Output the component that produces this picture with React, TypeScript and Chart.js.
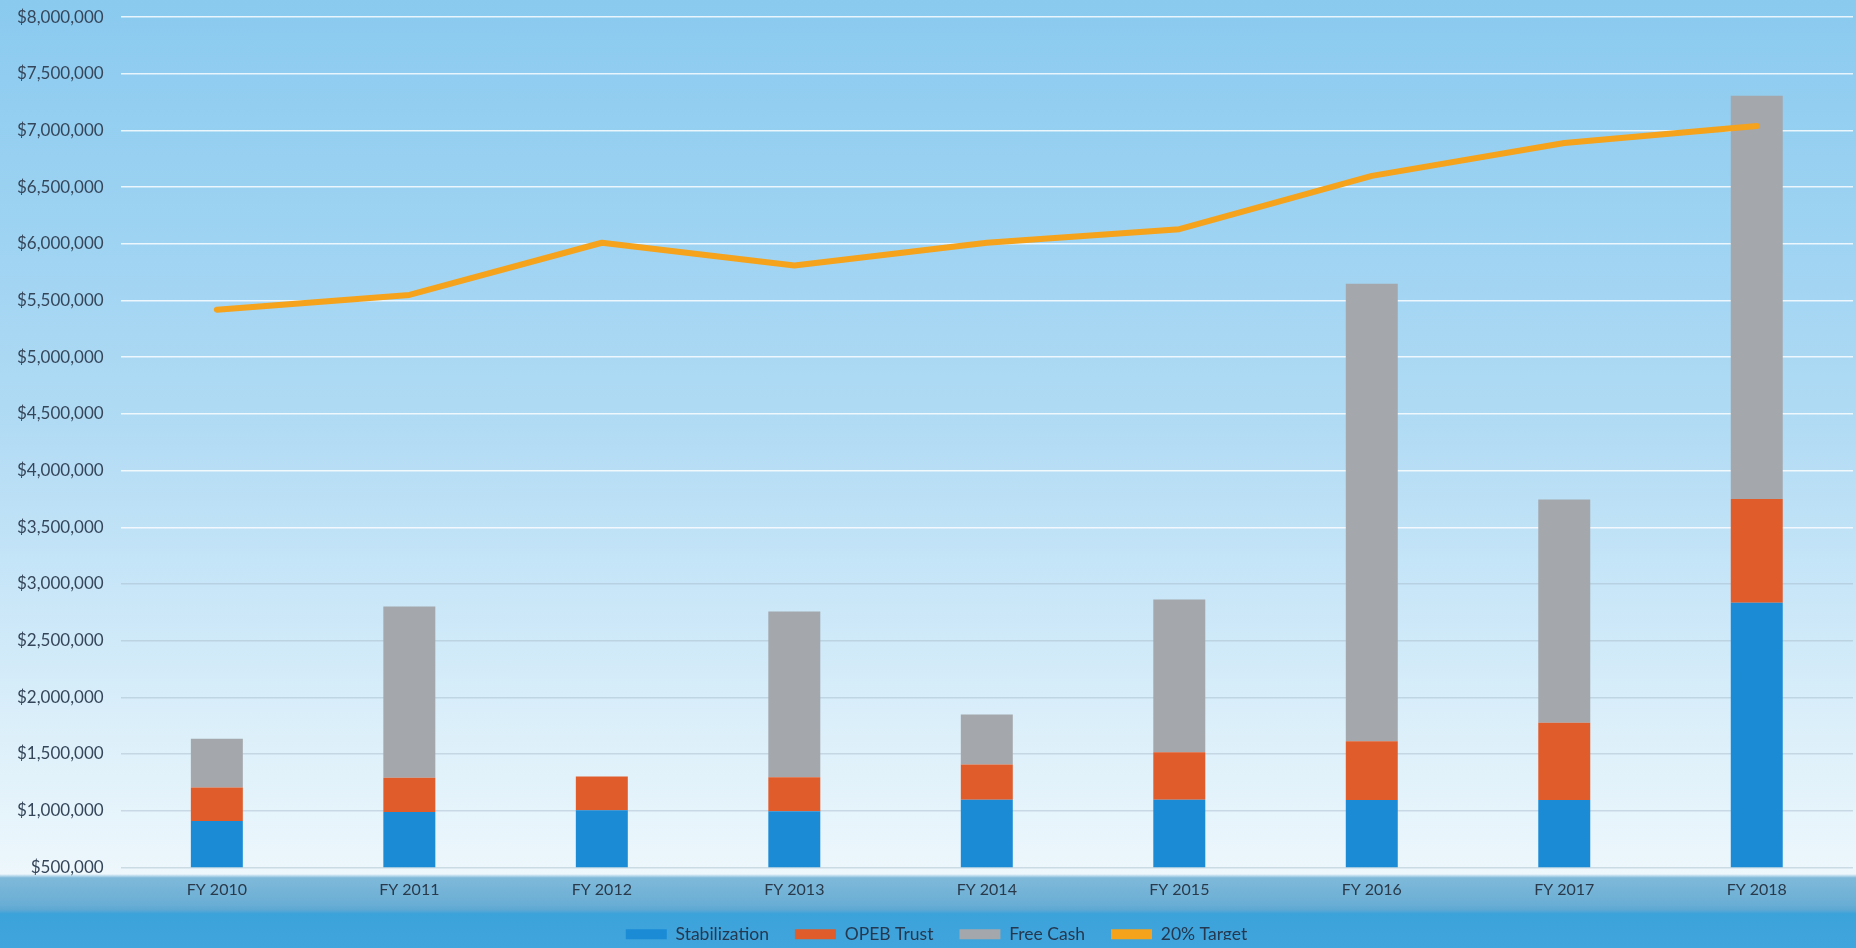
import React, { useEffect, useRef } from 'react';
import { Chart, registerables } from 'chart.js';

Chart.register(...registerables);

const categories = ['FY 2010', 'FY 2011', 'FY 2012', 'FY 2013', 'FY 2014', 'FY 2015', 'FY 2016', 'FY 2017', 'FY 2018'];
const stabilization = [908000, 988000, 1003000, 995000, 1097000, 1097000, 1093000, 1093000, 2835000];
const opebTrust = [295000, 302000, 299000, 299000, 309000, 418000, 518000, 682000, 915000];
const freeCash = [431000, 1510000, 0, 1462000, 442000, 1347000, 4037000, 1969000, 3556000];
const target20 = [5420000, 5550000, 6010000, 5810000, 6010000, 6130000, 6600000, 6890000, 7040000];

const yMin = 500000;
const yMax = 8000000;
const yStep = 500000;

const seriesLabels = ['Stabilization', 'OPEB Trust', 'Free Cash', '20% Target'];

const LEGEND_LIFT = 13;
const LEGEND_SHIFT_X = 10;

const legendAdjust = {
  id: 'legendAdjust',
  beforeInit(chart: any) {
    const legend = chart.legend;
    if (!legend) return;
    const origFit = legend.fit;
    legend.fit = function () {
      origFit.call(this);
      this.height -= LEGEND_LIFT;
    };
  },
  afterLayout(chart: any) {
    const legend = chart.legend;
    if (!legend) return;
    legend.top -= LEGEND_LIFT;
    legend.bottom -= LEGEND_LIFT;
    legend.left += LEGEND_SHIFT_X;
    legend.right += LEGEND_SHIFT_X;
  },
};

export default function App() {
  const canvasRef = useRef<HTMLCanvasElement | null>(null);

  useEffect(() => {
    document.body.style.margin = '0';
    document.body.style.overflow = 'hidden';
    const canvas = canvasRef.current;
    if (!canvas) return;
    const font = 'Lato';
    const chart = new Chart(canvas, {
      type: 'bar',
      data: {
        labels: categories,
        datasets: [
          {
            type: 'bar',
            label: seriesLabels[0],
            data: stabilization,
            backgroundColor: '#1b8bd6',
            stack: 'reserves',
            order: 1,
            barPercentage: 0.27,
            categoryPercentage: 1,
          },
          {
            type: 'bar',
            label: seriesLabels[1],
            data: opebTrust,
            backgroundColor: '#e05c2b',
            stack: 'reserves',
            order: 1,
            barPercentage: 0.27,
            categoryPercentage: 1,
          },
          {
            type: 'bar',
            label: seriesLabels[2],
            data: freeCash,
            backgroundColor: '#a4a7ac',
            stack: 'reserves',
            order: 1,
            barPercentage: 0.27,
            categoryPercentage: 1,
          },
          {
            type: 'line',
            label: seriesLabels[3],
            data: target20,
            borderColor: '#f5a21d',
            backgroundColor: '#f5a21d',
            borderWidth: 6,
            pointRadius: 0,
            tension: 0,
            order: 0,
            borderCapStyle: 'round',
            borderJoinStyle: 'round',
          },
        ],
      } as any,
      options: {
        animation: false,
        responsive: true,
        maintainAspectRatio: false,
        events: [],
        layout: { padding: { left: 0, right: 3, top: 0, bottom: 0 } },
        plugins: {
          tooltip: { enabled: false },
          legend: {
            position: 'bottom',
            labels: {
              boxWidth: 41,
              boxHeight: 10,
              padding: 26,
              color: '#243850',
              font: { family: font, size: 17.5 },
              sort: (a: any, b: any) => a.datasetIndex - b.datasetIndex,
              generateLabels: (c: any) => {
                const items = Chart.defaults.plugins.legend.labels.generateLabels(c);
                return items.map((it: any) => ({ ...it, lineWidth: 0, strokeStyle: 'rgba(0,0,0,0)' }));
              },
            },
          },
        },
        scales: {
          x: {
            stacked: true,
            grid: { display: false, drawTicks: false },
            border: { display: false },
            ticks: {
              color: '#2a3a4a',
              font: { family: font, size: 16 },
              padding: 13,
            },
          },
          y: {
            stacked: true,
            min: yMin,
            max: yMax,
            border: { display: false },
            grid: {
              drawTicks: false,
              lineWidth: 1.5,
              color: (ctx: any) =>
                ctx.tick && ctx.tick.value >= 3500000 ? 'rgba(255,255,255,0.8)' : 'rgba(165,185,200,0.45)',
            },
            ticks: {
              stepSize: yStep,
              padding: 17,
              color: '#36465a',
              font: { family: font, size: 17 },
              callback: (v: any) => '$' + Number(v).toLocaleString('en-US'),
            },
          },
        },
      },
      plugins: [legendAdjust],
    });
    return () => chart.destroy();
  }, []);

  return (
    <div
      style={{
        position: 'fixed',
        left: 0,
        top: 0,
        width: 1856,
        height: 948,
        overflow: 'hidden',
        background:
          'linear-gradient(to bottom, #8acaef 0%, #9ed3f2 25%, #b1dbf4 45%, #c8e6f8 62%, #ddf0fa 78%, #edf7fc 92.2%, #7fb9d9 92.6%, #6aaed5 95.4%, #5ca8d3 96.0%, #3ca2da 96.4%, #40a5dc 100%)',
      }}
    >
      <div style={{ position: 'absolute', left: 0, top: -10, width: 1856, height: 963 }}>
        <canvas ref={canvasRef} />
      </div>
    </div>
  );
}
